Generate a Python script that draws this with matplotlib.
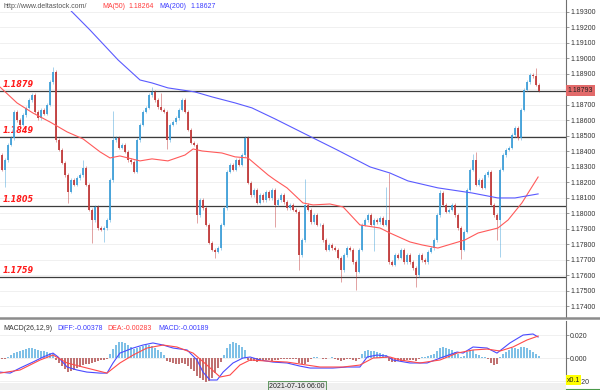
import matplotlib
matplotlib.use("Agg")
import matplotlib.pyplot as plt
import matplotlib.transforms as mtransforms
from matplotlib.lines import Line2D
from matplotlib.patches import Rectangle
from matplotlib.ticker import FixedLocator, FuncFormatter

plt.rcParams['font.family'] = ['Liberation Sans', 'DejaVu Sans']

# ---- data (EURUSD-style hourly candles) ----
first_open = 1.18378
closes = [
    1.18281, 1.18345, 1.18442, 1.18487, 1.18655, 1.18603, 1.18571, 1.18635, 1.18681, 1.18732,
    1.18764, 1.18655, 1.18616, 1.18668, 1.18642, 1.18700, 1.18848, 1.18913, 1.18474, 1.18410,
    1.18326, 1.18248, 1.18139, 1.18216, 1.18184, 1.18229, 1.18248, 1.18294, 1.18184, 1.18023,
    1.17958, 1.18042, 1.17906, 1.17894, 1.17906, 1.17958, 1.18216, 1.18474, 1.18487, 1.18423,
    1.18442, 1.18397, 1.18345, 1.18332, 1.18268, 1.18474, 1.18571, 1.18655, 1.18681, 1.18764,
    1.18784, 1.18732, 1.18687, 1.18668, 1.18655, 1.18474, 1.18571, 1.18590, 1.18616, 1.18668,
    1.18732, 1.18655, 1.18539, 1.18455, 1.18442, 1.17990, 1.18087, 1.18035, 1.17926, 1.17810,
    1.17765, 1.17752, 1.17777, 1.17926, 1.18035, 1.18268, 1.18313, 1.18281, 1.18345, 1.18313,
    1.18377, 1.18487, 1.18197, 1.18119, 1.18152, 1.18068, 1.18119, 1.18087, 1.18139, 1.18100,
    1.18152, 1.18055, 1.18087, 1.18119, 1.18074, 1.18035, 1.18055, 1.18023, 1.18010, 1.17732,
    1.17829, 1.18055, 1.18023, 1.17945, 1.17990, 1.17926, 1.17926, 1.17829, 1.17765, 1.17797,
    1.17777, 1.17765, 1.17713, 1.17635, 1.17732, 1.17777, 1.17765, 1.17687, 1.17623, 1.17765,
    1.17926, 1.17958, 1.17990, 1.17926, 1.17958, 1.17945, 1.17971, 1.17926, 1.17958, 1.17687,
    1.17668, 1.17732, 1.17713, 1.17765, 1.17687, 1.17732, 1.17687, 1.17648, 1.17603, 1.17732,
    1.17700, 1.17687, 1.17752, 1.17777, 1.17829, 1.17990, 1.18132, 1.18055, 1.18010, 1.18023,
    1.18055, 1.17990, 1.17906, 1.17765, 1.17881, 1.18152, 1.18281, 1.18345, 1.18184, 1.18216,
    1.18165, 1.18248, 1.18268, 1.18055, 1.17990, 1.17958, 1.18281, 1.18377, 1.18410, 1.18423,
    1.18506, 1.18552, 1.18487, 1.18668, 1.18797, 1.18848, 1.18894, 1.18887, 1.18829, 1.18793,
]
# wicks beyond the body, in pips (default 1 pip)
upper_wick = {17: 3, 27: 5, 37: 19, 50: 3, 53: 9, 101: 17, 128: 21, 129: 30,
              146: 2, 157: 4, 158: 5, 178: 5}
lower_wick = {1: 11, 22: 7, 30: 15, 34: 8, 55: 6, 65: 5, 71: 4, 91: 14, 99: 10,
              113: 8, 118: 12, 124: 17, 138: 8, 153: 6, 165: 13, 166: 24}

ma50_idx = [-0.7, 5, 10.3, 16, 21.7, 27, 32.7, 36, 39.3, 46, 50, 55.3, 61, 63.7, 66.7,
            73.3, 77.7, 82, 88.7, 91, 95, 100.3, 103.7, 109.3, 113.7, 119.3, 126, 129.3,
            136, 140, 145.3, 154.3, 158.7, 165.3, 168.7, 173.3, 178.7]
ma50_val = [1.18816, 1.18713, 1.18648, 1.18590, 1.18526, 1.18481, 1.18397, 1.18358, 1.18371,
            1.18339, 1.18352, 1.18339, 1.18377, 1.18416, 1.18403, 1.18390, 1.18365, 1.18358,
            1.18248, 1.18216, 1.18165, 1.18068, 1.18055, 1.18061, 1.18042, 1.17926, 1.17906,
            1.17874, 1.17816, 1.17797, 1.17777, 1.17829, 1.17874, 1.17906, 1.17958, 1.18068,
            1.18235]
ma200_idx = [19.3, 22.7, 29.3, 38.7, 46, 50, 55.3, 64.3, 70, 77.7, 83.3, 91, 103.7, 111.7,
             122.7, 129.3, 135.3, 145.3, 156.7, 165.3, 171, 178.7]
ma200_val = [1.19410, 1.19313, 1.19184, 1.18990, 1.18861, 1.18842, 1.18810, 1.18784,
             1.18752, 1.18713, 1.18681, 1.18610, 1.18487, 1.18410, 1.18300, 1.18261,
             1.18210, 1.18165, 1.18132, 1.18100, 1.18100, 1.18126]

levels = [1.1879, 1.1849, 1.1805, 1.1759]
last_price = "1.18793"

# MACD panel, in thousandths
macd_hist = [
    -0.9, -0.9, 0.9, 2.6, 4.3, 5.2, 6.1, 7.0, 7.8, 8.7,
    8.7, 7.8, 7.0, 6.1, 6.1, 5.2, 4.3, 3.5, -1.7, -4.3,
    -7.0, -9.6, -12.2, -11.3, -10.4, -8.7, -7.8, -6.1, -5.2, -5.2,
    -4.3, -3.5, -2.6, -1.7, -1.7, -0.9, 3.5, 7.8, 11.3, 13.9,
    13.9, 13.1, 11.3, 9.6, 7.8, 8.7, 9.6, 10.4, 11.3, 11.3,
    10.4, 8.7, 7.0, 5.2, 2.6, -2.6, -3.5, -4.3, -5.2, -5.2,
    -4.3, -5.2, -7.0, -9.6, -11.3, -15.7, -17.4, -19.1, -20.9, -20.0,
    -17.4, -13.1, -8.7, -3.5, 2.6, 8.7, 12.2, 13.9, 13.1, 11.3,
    9.6, 7.0, -1.7, -2.6, -2.6, -3.5, -2.6, -2.6, -1.7, -1.7,
    -2.6, -1.7, -1.7, -0.9, -0.9, -0.9, -0.9, -0.9, -0.9, -4.3,
    -5.2, -5.2, -3.5, -0.9, 0.9, 0.9, 0.0, -0.9, -0.9, 0.0,
    0.9, -0.9, -1.7, -2.6, -1.7, -0.9, -0.9, -1.7, -2.6, -0.9,
    3.5, 6.1, 7.0, 6.1, 6.1, 5.2, 4.3, 3.5, 2.6, -2.6,
    -3.5, -3.5, -2.6, -2.6, -2.6, -1.7, -1.7, -1.7, -2.6, -0.9,
    0.9, 0.9, 1.7, 2.6, 3.5, 6.1, 8.7, 9.6, 8.7, 7.8,
    7.0, 5.2, 3.5, 0.9, 1.7, 5.2, 7.0, 7.0, 3.5, 2.6,
    0.9, 0.9, -0.9, -4.3, -6.1, -5.2, 0.9, 3.5, 5.2, 7.0,
    8.7, 8.7, 7.8, 9.6, 9.6, 8.7, 7.0, 5.2, 3.5, 1.7,
]
diff_idx = [-0.7, 2.7, 6, 10.3, 13.7, 17, 18.7, 21.7, 25, 28.3, 32.7, 35, 37, 39.3, 43.7,
            47, 50.3, 53.7, 57, 61.7, 65, 67, 69.3, 71.7, 73.7, 77, 80.3, 82.7, 86, 90.3,
            95, 99.3, 102.7, 110.3, 115, 119.3, 121.7, 125, 128.3, 130.3, 136, 141.7, 147,
            151.7, 153.7, 157, 161.7, 165, 169.3, 173.7, 177, 178.7]
diff_val = [-12.2, -13.1, -8.7, -3.5, 0.9, 4.3, 0.9, -7.8, -10.4, -12.2, -13.1, -13.1, -4.3,
            4.3, 8.7, 11.3, 13.1, 11.3, 8.7, 7.0, -1.7, -12.2, -19.1, -19.1, -12.2, -4.3,
            0.0, 0.9, -1.7, -3.5, -4.3, -7.0, -8.7, -8.7, -7.8, -7.8, 0.9, 2.6, 1.7, -1.7,
            -4.3, -4.3, 0.9, 5.2, 4.3, 9.6, 8.7, 4.3, 13.1, 20.0, 20.9, 18.3]
dea_idx = [-0.7, 6, 12.7, 17, 21.7, 28.3, 35, 39.3, 43.7, 48.3, 53.7, 58.3, 63.7, 68.3,
           72.7, 76, 79.3, 82.7, 88.3, 95, 99.3, 106, 113.7, 119.3, 123.7, 129.3, 132.7,
           139.3, 146, 151.7, 157, 161.7, 166, 170.3, 175, 178.7]
dea_val = [-13.1, -10.4, -1.7, 2.6, -4.3, -8.7, -13.1, -4.3, 2.6, 8.7, 11.3, 9.6, 4.3, -6.1,
           -16.5, -14.8, -6.1, -1.7, -2.6, -3.5, -5.2, -7.8, -7.8, -6.1, 0.0, 0.9, -1.7,
           -4.3, -1.7, 4.3, 7.0, 7.8, 6.1, 9.6, 15.7, 19.1]

W, H = 600, 390
UP, DOWN = '#3f9fd8', '#c03a3a'


def fx(x):
    return x / W


def fy(y):
    return 1 - y / H


fig = plt.figure(figsize=(6, 3.9), dpi=100, facecolor='white')
ax = fig.add_axes([0, fy(317), fx(566), 317 / H])
axm = fig.add_axes([0, fy(383), fx(566), (383 - 321) / H])

idx = list(range(len(closes)))
opens = [first_open] + closes[:-1]
bottoms, heights, colors, highs, lows = [], [], [], [], []
for i, (o, c) in enumerate(zip(opens, closes)):
    top, bot = max(o, c), min(o, c)
    bottoms.append(bot)
    heights.append(max(top - bot, 0.00002))
    colors.append(UP if c >= o else DOWN)
    highs.append(top + upper_wick.get(i, 1) * 0.0001)
    lows.append(bot - lower_wick.get(i, 1) * 0.0001)

ax.vlines(idx, lows, highs, colors=colors, lw=0.6, alpha=0.55, zorder=3)
ax.bar(idx, heights, bottom=bottoms, width=0.62, color=colors, lw=0, alpha=0.9, zorder=4)
ax.plot(ma50_idx, ma50_val, color='#ff5a5a', lw=0.8, zorder=5)
ax.plot(ma200_idx, ma200_val, color='#5a5aff', lw=0.8, zorder=5)

for lv in levels:
    ax.axhline(lv, color='#3c3c3c', lw=0.9, zorder=2)
    ax.annotate(f"{lv:.4f}", xy=(0, lv), xycoords=('axes fraction', 'data'),
                xytext=(3, 2), textcoords='offset pixels', ha='left', va='bottom',
                color='#ff1a1a', fontsize=5.8, fontweight='bold', style='italic',
                family='DejaVu Sans')

ax.set_xlim(-0.67, 188)
ax.set_ylim(1.17332, 1.19377)
ticks = [1.174 + 0.001 * k for k in range(20)]
ax.yaxis.set_major_locator(FixedLocator(ticks))
ax.yaxis.set_major_formatter(FuncFormatter(lambda v, p: f"{v:.5f}"))
ax.grid(axis='y', color='#eeeeee', lw=0.6, zorder=0)

axm.set_xlim(-0.67, 188)
axm.set_ylim(-21.7, 32.2)
hcol = ['#7fc0e6' if v >= 0 else '#c07272' for v in macd_hist]
axm.bar(idx, macd_hist, width=0.4, color=hcol, lw=0, zorder=2)
axm.plot(diff_idx, diff_val, color='#4a4aff', lw=0.8, zorder=3)
axm.plot(dea_idx, dea_val, color='#ff4a4a', lw=0.8, zorder=3)
axm.yaxis.set_major_locator(FixedLocator([-20, 0, 20]))
axm.yaxis.set_major_formatter(FuncFormatter(lambda v, p: f"{v / 1000:.3f}"))
axm.grid(axis='y', color='#eeeeee', lw=0.6, zorder=0)

for a in (ax, axm):
    a.set_facecolor('white')
    for s in ('top', 'left', 'bottom'):
        a.spines[s].set_visible(False)
    a.spines['right'].set_color('#707070')
    a.spines['right'].set_linewidth(0.8)
    a.yaxis.tick_right()
    a.tick_params(axis='y', direction='out', length=2, width=0.5, color='#707070',
                  labelsize=5, labelcolor='#333333', pad=1)
    a.set_xticks([])

# last price box
ax.text(1.003, 1.18793, last_price, transform=mtransforms.blended_transform_factory(
    ax.transAxes, ax.transData), ha='left', va='center', fontsize=5, color='#222222',
    bbox=dict(boxstyle='square,pad=0.3', fc='#e26a6a', ec='none'), zorder=10, clip_on=False)

# header strip
fig.add_artist(Rectangle((0, fy(11)), fx(230), 11 / H, transform=fig.transFigure,
                         fc='white', ec='none', zorder=5))
fig.text(fx(3), fy(6), "http://www.deltastock.com/", fontsize=5, color='#555555',
         va='center', zorder=6)
fig.text(fx(102), fy(6), "MA(50)", fontsize=5, color='#ff3c3c', va='center', zorder=6)
fig.text(fx(128), fy(6), "1.18264", fontsize=5, color='#ff3c3c', va='center', zorder=6)
fig.text(fx(159), fy(6), "MA(200)", fontsize=5, color='#3c3cff', va='center', zorder=6)
fig.text(fx(190), fy(6), "1.18627", fontsize=5, color='#3c3cff', va='center', zorder=6)

# separator between panels
fig.add_artist(Line2D([0, 1], [fy(318), fy(318)], transform=fig.transFigure,
                      color='#8c8c8c', lw=1.8, zorder=6))

fig.text(fx(3), fy(329), "MACD(26,12,9)", fontsize=5, color='#333333', va='center', zorder=6)
fig.text(fx(57), fy(329), "DIFF:-0.00378", fontsize=5, color='#3c3cff', va='center', zorder=6)
fig.text(fx(107), fy(329), "DEA:-0.00283", fontsize=5, color='#ff3c3c', va='center', zorder=6)
fig.text(fx(158), fy(329), "MACD:-0.00189", fontsize=5, color='#3c3cff', va='center', zorder=6)

# bottom time strip
fig.add_artist(Rectangle((0, 0), fx(566), 7 / H, transform=fig.transFigure,
                         fc='#f0f0f0', ec='none', zorder=5))
fig.text(fx(297), fy(386), "2021-07-16 06:00", fontsize=5, color='#222222', ha='center',
         va='center', zorder=7,
         bbox=dict(boxstyle='square,pad=0.25', fc='#e8e8e8', ec='#4a8a4a', lw=0.6))
fig.text(fx(567), fy(380), "x0.1", fontsize=5, color='#222222', ha='left', va='center',
         zorder=7, bbox=dict(boxstyle='square,pad=0.15', fc='#ffff00', ec='none'))
fig.add_artist(Line2D([fx(566), 1], [fy(389), fy(389)], transform=fig.transFigure,
                      color='#4a9a4a', lw=0.8, zorder=6))

fig.savefig("out.png", dpi=100, facecolor='white')
